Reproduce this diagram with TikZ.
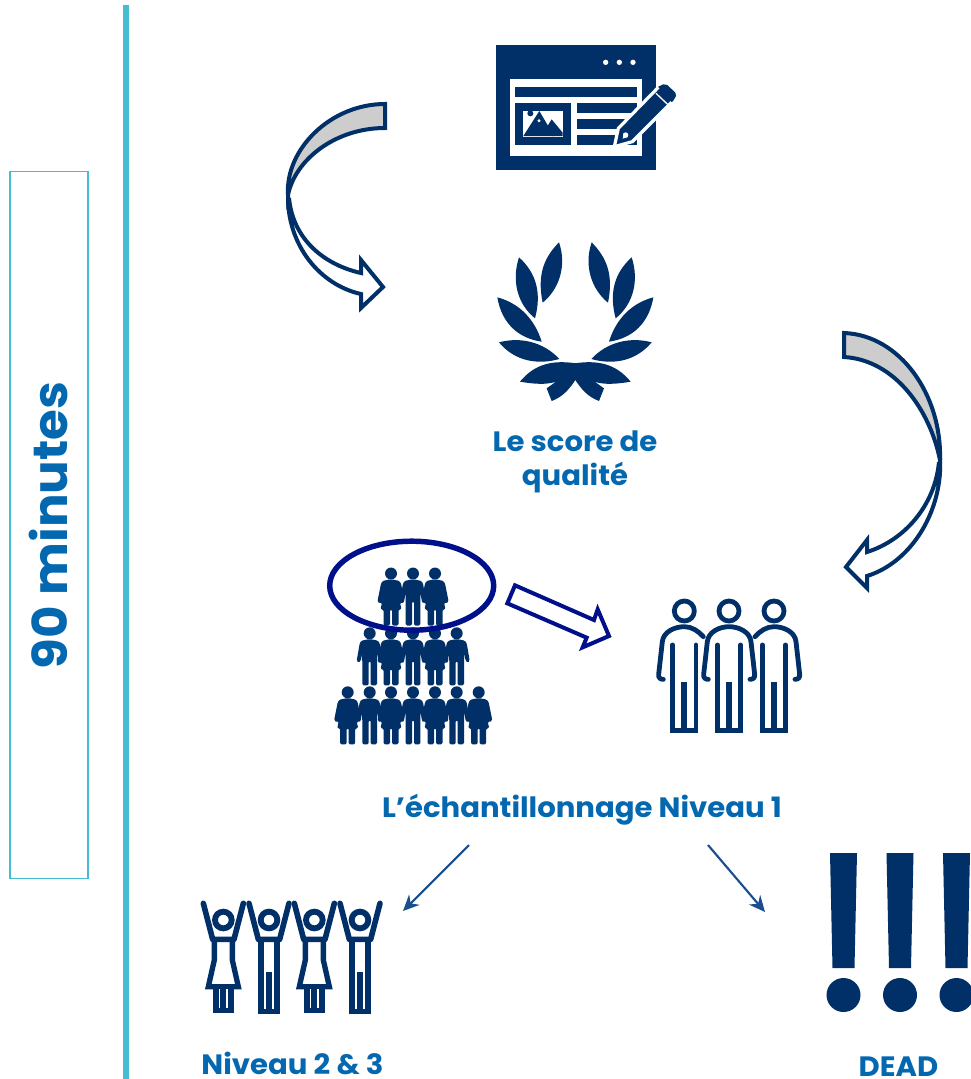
\documentclass[tikz,border=0pt]{standalone}
\usepackage{fontspec}
\setmainfont{Poppins}[BoldFont={Poppins Bold},BoldFeatures={FakeStretch=1.04}]
\usetikzlibrary{arrows.meta}
\definecolor{navy}{HTML}{003067}
\definecolor{deepblue}{HTML}{000F8A}
\definecolor{teal}{HTML}{45BCD0}
\definecolor{lbl}{HTML}{0468B1}
\definecolor{thin}{HTML}{1B4E8F}
\definecolor{band}{HTML}{CDCDCD}
\tikzset{
 lab/.style={text=lbl,font=\bfseries\fontsize{21pt}{25.5pt}\selectfont,align=center,inner sep=0pt},
 curved/.style={draw=navy,line width=3pt,line join=miter},
 hollow/.style={draw=deepblue,line width=3pt,fill=white,line join=miter},
 thinarrow/.style={draw=thin,line width=1.6pt,-{Stealth[length=12pt,width=11pt]}},
 zoomed/.style={shift={#1},x=0.25pt,y=-0.25pt},
 outline/.style={draw=navy,line width=3.6pt,line cap=round,line join=round},
 raised/.style={draw=navy,line width=4pt,line join=miter},
 solidman/.pic={\fill[navy] (0,0) circle (6);
  \fill[navy,rounded corners=1pt] (-2,6) -- (-8.5,7.5) -- (-10,10) -- (-13,27.5) -- (-11,29.5) -- (-8.8,27) -- (-7.5,20) -- (-7.3,52) -- (-1,52) -- (-1,28) -- (1,28) -- (1,52) -- (7.3,52) -- (7.5,20) -- (8.8,27) -- (11,29.5) -- (13,27.5) -- (10,10) -- (8.5,7.5) -- (2,6) -- cycle;},
 solidwoman/.pic={\fill[navy] (0,0) circle (6);
  \fill[navy,rounded corners=1pt] (-2,6) -- (-8.5,7.5) -- (-10,10) -- (-13.6,28) -- (-11,30) -- (-9,29) -- (-10.5,36) -- (-7.5,36) -- (-7.5,52) -- (-1,52) -- (-1,36) -- (1,36) -- (1,52) -- (7.5,52) -- (7.5,36) -- (10.5,36) -- (9,29) -- (11,30) -- (13.6,28) -- (10,10) -- (8.5,7.5) -- (2,6) -- cycle;},
 outlegs/.pic={\draw[outline] (0,78) circle (30);
  \draw[outline] (-35,180) -- (-35,437);
  \draw[outline] (35,180) -- (35,437);
  \draw[navy,line width=3.6pt] (-42,437) -- (42,437);
  \draw[navy,line width=4.6pt] (0,290) -- (0,437);},
 armsup/.pic={\draw[draw=navy,line width=4.2pt,line cap=round,line join=round] (-60,40) -- (-32,148) -- (32,148) -- (60,40);
  \draw[draw=navy,line width=4.4pt] (0,90) circle (25);},
 raisedman/.pic={\pic at (0,0) {armsup};
  \draw[raised] (-24,150) -- (-24,364) -- (24,364) -- (24,150);
  \fill[navy] (-9,247) rectangle (9,364);},
 raisedwoman/.pic={\pic at (0,0) {armsup};
  \draw[raised] (-27,150) -- (-27,210) -- (-45,290) -- (45,290) -- (27,210) -- (27,150);
  \fill[navy] (-32,290) rectangle (32,370);
  \fill[white] (-14,298) rectangle (-9,355);
  \fill[white] (9,298) rectangle (14,355);},
}
\begin{document}
\begin{tikzpicture}[x=0.75pt,y=-0.75pt]
\useasboundingbox (0,0) rectangle (971,1079);
\fill[white] (0,0) rectangle (971,1079);
% time bar
\draw[teal,line width=3.8pt] (126,5) -- (126,1079);
\node[draw=teal,line width=0.9pt,minimum width=58.5pt,minimum height=530pt,inner sep=0pt] (timebox) at (49,525) {};
\node[rotate=90,text=lbl,font=\bfseries\fontsize{36pt}{40pt}\selectfont,inner sep=0pt] (timelabel) at (48,525.5) {90 minutes};
% document icon
\begin{scope}[zoomed={(480,30)}]
 \fill[navy] (47,46) rectangle (528,420);
 \foreach \d in {377,418,459} \fill[white] (\d,97) circle (8);
 \fill[white] (90,148) rectangle (485,378);
 \fill[navy] (106,170) rectangle (470,200);
 \fill[navy] (106,218) rectangle (274,344);
 \fill[white] (130,243) rectangle (248,320);
 \fill[navy] (178,243) -- (130,318) -- (222,318) -- cycle;
 \fill[navy] (215,268) -- (200,292) -- (218,318) -- (248,318) -- (248,308) -- cycle;
 \fill[navy] (151,250) circle (9);
 \fill[white] (177,272) circle (5);
 \fill[navy] (290,218) rectangle (470,248);
 \fill[navy] (290,266) rectangle (470,296);
 \fill[navy] (290,314) rectangle (470,344);
 \fill[navy] (403,350) -- (415,295) -- (535,170) -- (550,163) -- (562,165) -- (586,188) -- (588,198) -- (580,212) -- (455,335) -- cycle;
 \draw[white,line width=2.4pt,line join=miter] (403,350) -- (415,295) -- (535,172);
 \draw[white,line width=2.4pt,line join=miter] (403,350) -- (457,335) -- (575,217);
 \draw[white,line width=1pt] (528,190) -- (566,226);
 \fill[white] (437,315) circle (8);
 \fill[white] (428,326) -- (431,309) -- (444,321) -- cycle;
\end{scope}
% laurel
\begin{scope}[zoomed={(480,230)}]
 \foreach \m/\o in {1/0,-1/572} {
 \begin{scope}[xshift=\o*0.25pt,xscale=\m]
  \fill[navy] (237,37) .. controls (195,80) and (170,130) .. (188,218) .. controls (235,180) and (262,110) .. (237,37) -- cycle;
  \fill[navy] (117,82) .. controls (95,150) and (110,220) .. (165,265) .. controls (185,190) and (170,130) .. (117,82) -- cycle;
  \fill[navy] (52,202) .. controls (65,280) and (115,325) .. (185,335) .. controls (165,270) and (120,220) .. (52,202) -- cycle;
  \fill[navy] (57,337) .. controls (105,395) and (175,405) .. (238,387) .. controls (190,335) and (120,320) .. (57,337) -- cycle;
  \fill[navy] (288,400) .. controls (220,390) and (165,400) .. (120,455) .. controls (160,462) and (200,465) .. (228,455) -- (200,475) -- (215,513) .. controls (250,500) and (270,475) .. (288,447) -- cycle;
 \end{scope}}
\end{scope}
% curved arrows
\draw[curved,fill=band] (385,104) -- (385,128) .. controls (335,128) and (295,160) .. (288,195) .. controls (285,150) and (330,104) .. (385,104) -- cycle;
\draw[curved] (288,195) .. controls (287,245) and (320,285) .. (361,294) -- (361,308) -- (383,287) -- (361,260) -- (361,273) .. controls (325,265) and (293,240) .. (289,198);
\draw[curved,fill=band] (844,333) -- (844,357) .. controls (895,360) and (930,410) .. (940,460) .. controls (942,395) and (900,335) .. (844,333) -- cycle;
\draw[curved] (940,458) .. controls (943,510) and (912,562) .. (867,576) -- (867,588) -- (846,567) -- (867,540) -- (867,552) .. controls (905,540) and (935,505) .. (939,462);
% labels
\node[lab] (score) at (575,461.5) {Le score de\\qualité};
\node[lab] (sampling) at (582,809.5) {L’échantillonnage Niveau 1};
\node[lab] (levels) at (292.5,1063) {Niveau 2 \& 3};
\node[lab] (dead) at (898.5,1066.5) {DEAD};
% solid crowd
\pic at (391,573.5) {solidwoman}; \pic at (435,573.5) {solidwoman}; \pic at (413,573.5) {solidman};
\pic at (369.7,633.3) {solidman}; \pic at (456.7,633.3) {solidman}; \pic at (391,633.3) {solidwoman}; \pic at (435,633.3) {solidwoman}; \pic at (413,633.3) {solidman};
\pic at (347.7,692.3) {solidwoman}; \pic at (478.7,692.3) {solidwoman}; \pic at (369.7,692.3) {solidman}; \pic at (456.7,692.3) {solidman}; \pic at (391,692.3) {solidwoman}; \pic at (435,692.3) {solidwoman}; \pic at (413,692.3) {solidman};
\draw[deepblue,line width=4.1pt] (411.7,585.7) ellipse (82 and 44.5);
% hollow arrow
\begin{scope}[zoomed={(320,530)}]
 \draw[hollow] (585,166) -- (822,270) -- (833,238) -- (867,318) -- (788,352) -- (800,323) -- (562,220) -- cycle;
\end{scope}
% outlined people
\begin{scope}[zoomed={(640,585)}]
 \pic at (133,0) {outlegs}; \pic at (267,0) {outlegs}; \pic at (402,0) {outlegs};
 \draw[outline] (70,283) .. controls (60,283) and (55,278) .. (56,268) -- (67,170) .. controls (70,140) and (105,125) .. (133,125) .. controls (155,125) and (175,138) .. (190,155);
 \draw[outline] (205,283) .. controls (195,283) and (190,278) .. (191,268) -- (202,170) .. controls (205,140) and (240,125) .. (267,125) .. controls (295,125) and (330,140) .. (333,170) -- (344,268) .. controls (345,278) and (340,283) .. (330,283);
 \draw[outline] (345,155) .. controls (360,138) and (380,125) .. (402,125) .. controls (430,125) and (465,140) .. (468,170) -- (479,268) .. controls (480,278) and (475,283) .. (465,283);
\end{scope}
% connectors
\coordinate (fromA) at (469,845); \coordinate (toA) at (403,911);
\coordinate (fromB) at (708,845); \coordinate (toB) at (765,912);
\draw[thinarrow] (fromA) -- (toA);
\draw[thinarrow] (fromB) -- (toB);
% raised people
\begin{scope}[zoomed={(190,890)}]
 \pic at (100,0) {raisedwoman}; \pic at (237,0) {raisedman}; \pic at (373,0) {raisedwoman}; \pic at (510,0) {raisedman};
\end{scope}
% exclamation marks
\foreach \c in {843.5,900,956.5} {
 \fill[navy] (\c-13.5,853) -- (\c+13.5,853) -- (\c+11,968) -- (\c-11,968) -- cycle;
 \fill[navy] (\c,995) circle (17);
}
\end{tikzpicture}
\end{document}
